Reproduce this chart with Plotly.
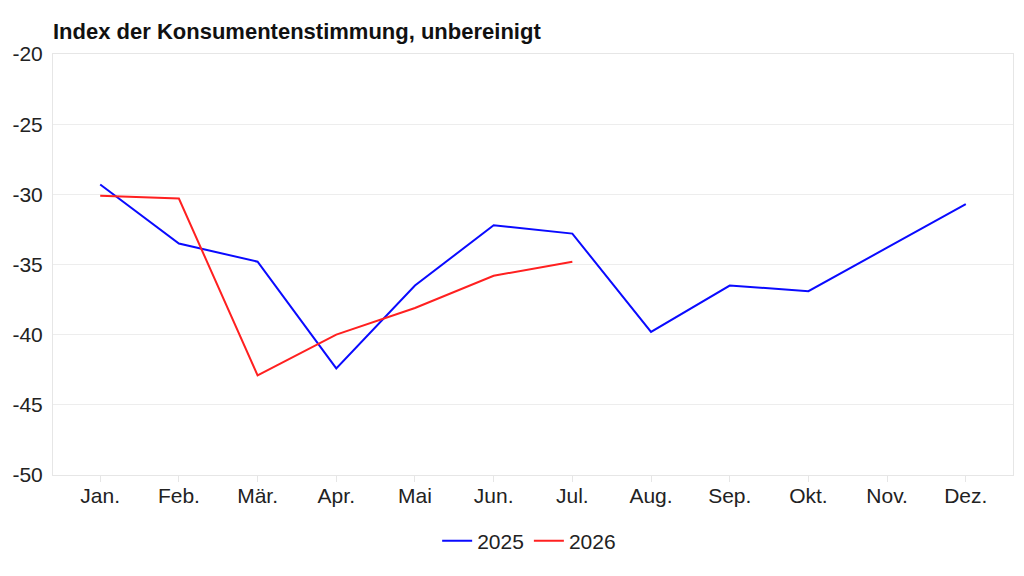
import plotly.graph_objects as go

months = ["Jan.", "Feb.", "Mär.", "Apr.", "Mai", "Jun.", "Jul.",
          "Aug.", "Sep.", "Okt.", "Nov.", "Dez."]
values_2025 = [-29.3, -33.5, -34.8, -42.4, -36.5, -32.2, -32.8,
               -39.8, -36.5, -36.9, -33.8, -30.7]
values_2026 = [-30.1, -30.3, -42.9, -40.0, -38.1, -35.8, -34.8]
y_ticks = [-20, -25, -30, -35, -40, -45, -50]

# the page puts the figure 8px in from the window edge, so size it to fit
W, H = 1008, 560

fig = go.Figure()
fig.add_trace(go.Scatter(x=list(range(len(values_2025))), y=values_2025,
                         mode="lines", name="2025",
                         line=dict(color="#0a0aff", width=2)))
fig.add_trace(go.Scatter(x=list(range(len(values_2026))), y=values_2026,
                         mode="lines", name="2026",
                         line=dict(color="#ff2020", width=2)))

fig.update_layout(
    width=W, height=H,
    margin=dict(l=45, r=3, t=46, b=93, autoexpand=False),
    paper_bgcolor="white", plot_bgcolor="white",
    font=dict(family="Liberation Sans, Arial, sans-serif", size=21, color="#222"),
    title=dict(text="<b>Index der Konsumentenstimmung, unbereinigt</b>",
               x=45 / W, xanchor="left", y=1 - 23 / H, yanchor="middle",
               font=dict(size=22, color="#111")),
    showlegend=True,
    legend=dict(orientation="h", x=0.496, xanchor="center", y=-0.157, yanchor="middle",
                font=dict(size=21), itemwidth=30),
)
fig.update_xaxes(range=[-0.6, 11.6], tickvals=list(range(12)), ticktext=months,
                 showgrid=False, showline=True, linecolor="#e6e6e6", mirror=True,
                 ticks="outside", tickcolor="#e6e6e6", ticklen=6, zeroline=False,
                 ticklabelstandoff=-4, automargin=False)
fig.update_yaxes(range=[-50, -20], tickvals=y_ticks, ticktext=[str(v) for v in y_ticks],
                 showgrid=True, gridcolor="#ededed",
                 showline=True, linecolor="#e6e6e6", mirror=True,
                 ticks="", zeroline=False, ticklabelstandoff=5, automargin=False)

fig.write_html("out.html")
